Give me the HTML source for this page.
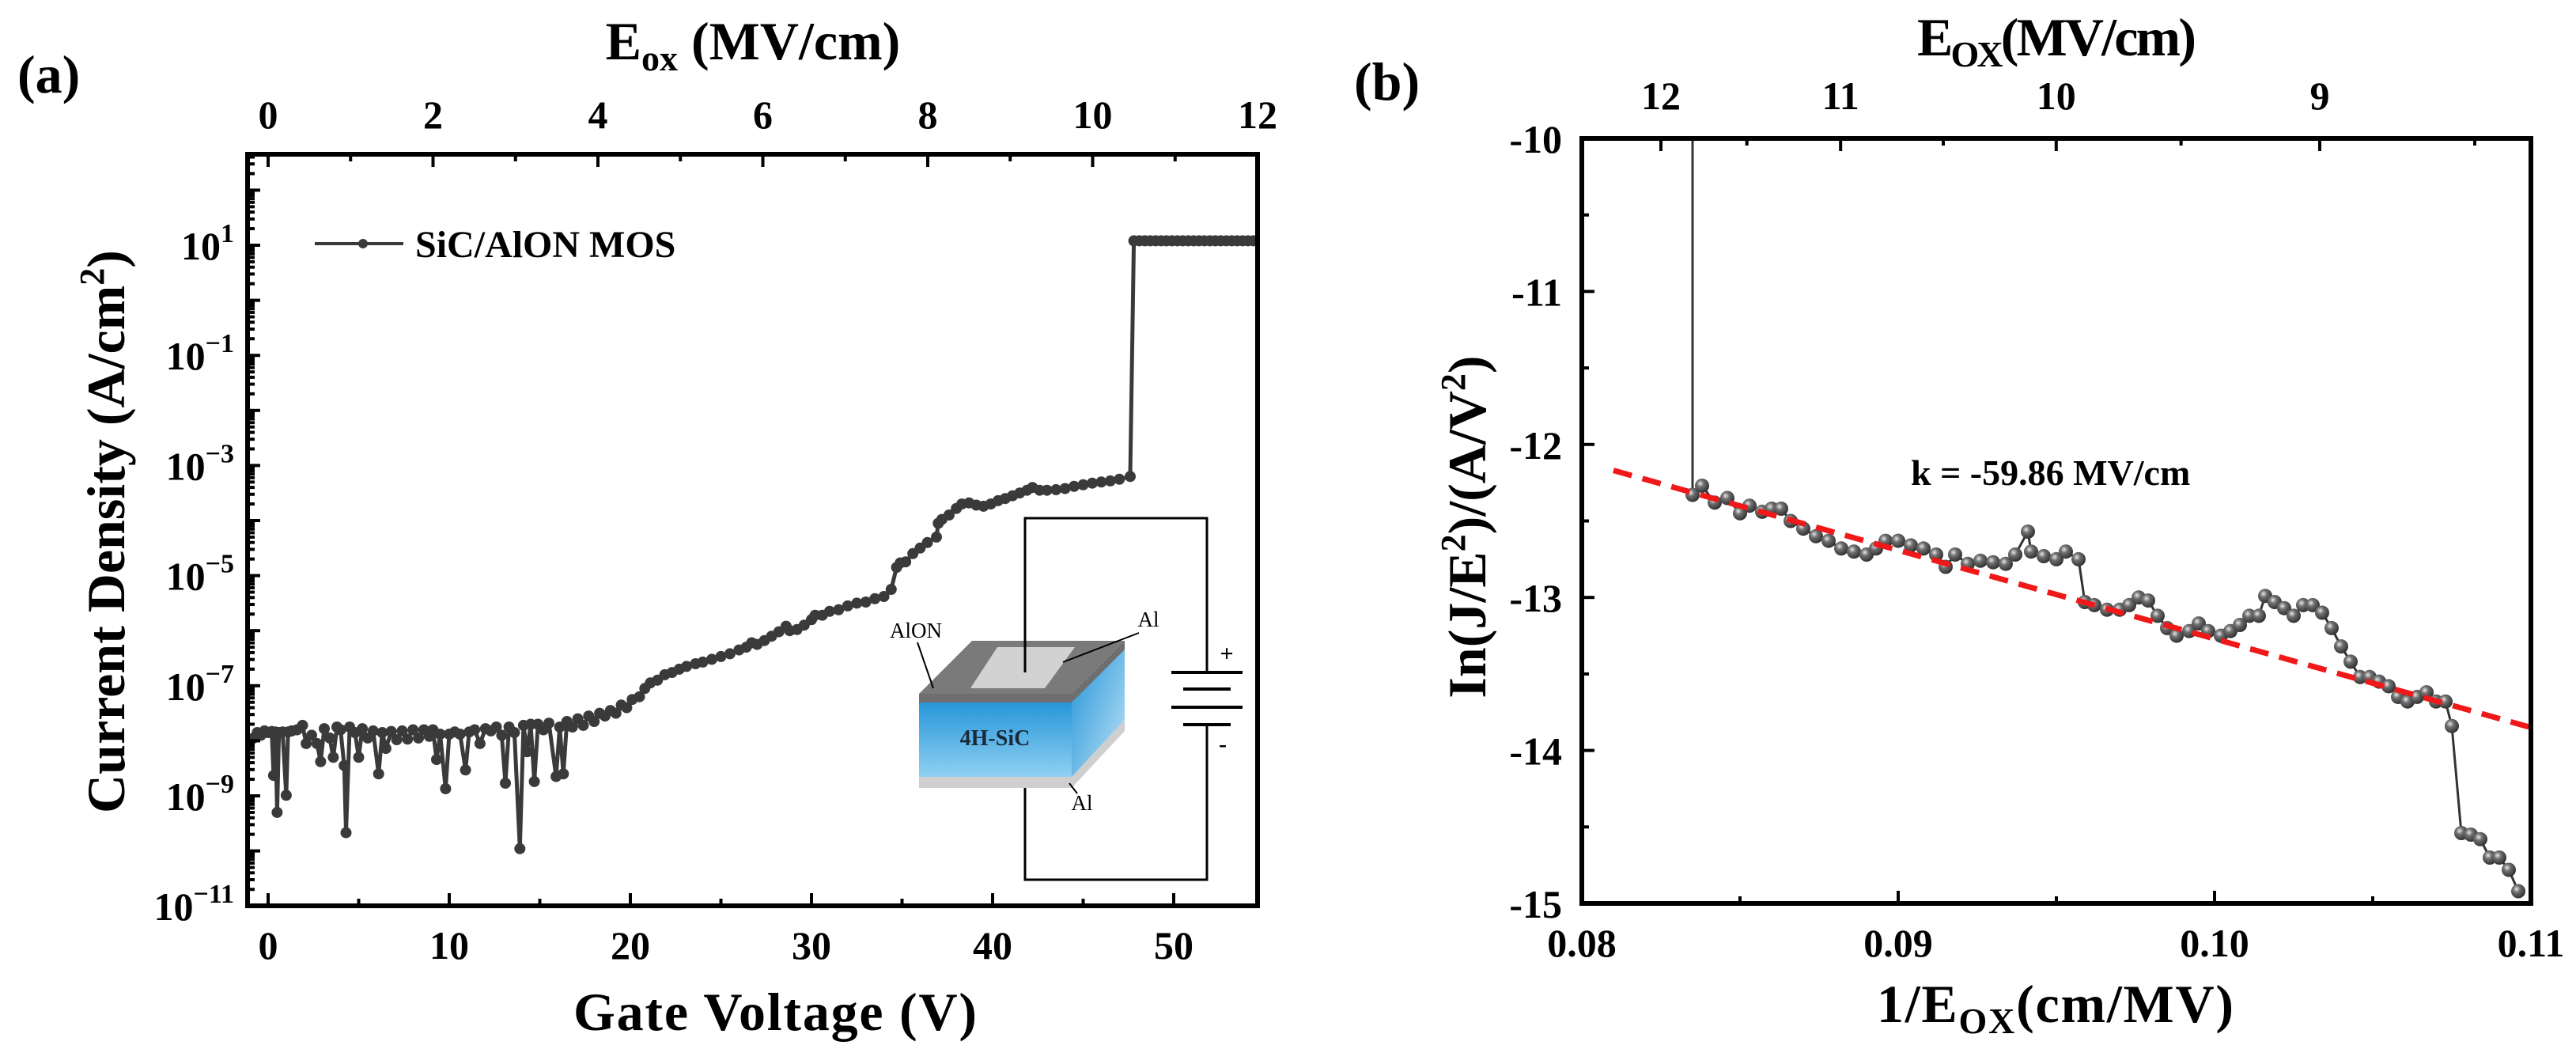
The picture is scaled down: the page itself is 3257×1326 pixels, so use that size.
<!DOCTYPE html>
<html><head><meta charset="utf-8"><title>SiC/AlON MOS J-V and FN plot</title>
<style>
html,body{margin:0;padding:0;background:#fff;}
svg{display:block;font-family:"Liberation Serif",serif;}
.tk{stroke:#000;stroke-width:4;}
.lbl{font-weight:bold;font-size:50px;fill:#000;}
.ttl{font-weight:bold;font-size:68px;fill:#000;}
</style></head>
<body>
<svg id="fig" width="3257" height="1326" viewBox="0 0 3257 1326" xmlns="http://www.w3.org/2000/svg">
<defs>
<clipPath id="clipA"><rect x="313" y="195" width="1277" height="950"/></clipPath>
<clipPath id="clipB"><rect x="2000" y="175" width="1200" height="967"/></clipPath>
<radialGradient id="ball" cx="0.38" cy="0.35" r="0.7">
<stop offset="0" stop-color="#e8e8e8"/><stop offset="0.35" stop-color="#707070"/><stop offset="1" stop-color="#2a2a2a"/>
</radialGradient>
<linearGradient id="sicFront" x1="0" y1="0" x2="0" y2="1">
<stop offset="0" stop-color="#1b8fd6"/><stop offset="1" stop-color="#8fd0f2"/>
</linearGradient>
<linearGradient id="sicSide" x1="0" y1="0" x2="1" y2="1">
<stop offset="0" stop-color="#1b8fd6"/><stop offset="1" stop-color="#bfe4f7"/>
</linearGradient>
</defs>

<!-- Panel (a) static text -->
<text x="22" y="117" class="ttl" font-size="82">(a)</text>
<text x="952" y="75" class="ttl" text-anchor="middle">E<tspan font-size="46" dy="14">ox</tspan><tspan dy="-14"> (MV/cm)</tspan></text>
<text x="980" y="1302" class="ttl" text-anchor="middle" textLength="510">Gate Voltage (V)</text>
<text transform="translate(157,672) rotate(-90)" class="ttl" text-anchor="middle">Current Density (A/cm<tspan font-size="44" dy="-26">2</tspan><tspan dy="26">)</tspan></text>

<!-- Legend -->
<g>
<line x1="398" y1="308" x2="510" y2="308" stroke="#3a3a3a" stroke-width="4"/>
<circle cx="459" cy="308" r="6" fill="#3a3a3a"/>
<text x="525" y="325" font-weight="bold" font-size="48">SiC/AlON MOS</text>
</g>

<!-- Inset: MOS structure and circuit -->
<g>
<polyline points="1296,850 1296,655 1526,655 1526,850" fill="none" stroke="#000" stroke-width="3"/>
<polyline points="1526,916 1526,1112 1296,1112 1296,982" fill="none" stroke="#000" stroke-width="3"/>
<g>
<line x1="1481" y1="850" x2="1571" y2="850" stroke="#000" stroke-width="4"/>
<line x1="1496" y1="871" x2="1556" y2="871" stroke="#000" stroke-width="4"/>
<line x1="1481" y1="894" x2="1571" y2="894" stroke="#000" stroke-width="4"/>
<line x1="1496" y1="916" x2="1556" y2="916" stroke="#000" stroke-width="4"/>
<text x="1551" y="836" font-size="30" font-weight="bold" text-anchor="middle">+</text>
<text x="1546" y="950" font-size="30" font-weight="bold" text-anchor="middle">-</text>
</g>
<polygon points="1162,982 1355,982 1422,910 1422,924 1355,996 1162,996" fill="#cfcfcf"/>
<polygon points="1162,877 1355,877 1355,982 1162,982" fill="url(#sicFront)"/>
<polygon points="1355,877 1422,810 1422,910 1355,982" fill="url(#sicSide)"/>
<polygon points="1162,877 1229,810 1422,810 1355,877" fill="#7a7a7a"/>
<polygon points="1162,877 1355,877 1355,888 1162,888" fill="#6e6e6e"/>
<polygon points="1355,877 1422,810 1422,821 1355,888" fill="#6e6e6e"/>
<polygon points="1227,870 1261,818 1359,818 1321,870" fill="#d2d2d2"/>
<line x1="1296" y1="655" x2="1296" y2="850" stroke="#000" stroke-width="3"/>
<text x="1158" y="806" font-size="27" text-anchor="middle">AlON</text>
<line x1="1160" y1="812" x2="1180" y2="870" stroke="#000" stroke-width="2"/>
<text x="1452" y="792" font-size="27" text-anchor="middle">Al</text>
<line x1="1344" y1="837" x2="1440" y2="800" stroke="#000" stroke-width="2"/>
<text x="1258" y="942" font-size="28" font-weight="bold" text-anchor="middle" fill="#1a2a3a">4H-SiC</text>
<text x="1368" y="1024" font-size="27" text-anchor="middle">Al</text>
<line x1="1352" y1="990" x2="1362" y2="1003" stroke="#000" stroke-width="2"/>
</g>

<!-- Panel (b) static text -->
<text x="1712" y="126" class="ttl" font-size="78">(b)</text>
<text x="2424" y="70" class="ttl" textLength="353">E<tspan font-size="46" dy="14">OX</tspan><tspan dy="-14">(MV/cm)</tspan></text>
<text x="2373" y="1292" class="ttl" textLength="451">1/E<tspan font-size="46" dy="14">OX</tspan><tspan dy="-14">(cm/MV)</tspan></text>
<text transform="translate(1878,666) rotate(-90)" class="ttl" text-anchor="middle">In(J/E<tspan font-size="44" dy="-26">2</tspan><tspan dy="26">)/(A/V</tspan><tspan font-size="44" dy="-26">2</tspan><tspan dy="26">)</tspan></text>
<text x="2416" y="613" font-weight="bold" font-size="46">k = -59.86 MV/cm</text>

<g id="layerA"></g>
<g id="layerB"></g>
</svg>

<script>
// ---------- Panel (a) data ----------
const voltA = [-0.8,-0.6,-0.4,-0.2,0,0.2,0.3,0.4,0.5,0.6,0.8,1.0,1.1,1.3,1.6,1.9,2.1,2.4,2.7,2.9,3.1,3.4,3.6,3.8,4.0,4.2,4.3,4.5,4.8,5.0,5.2,5.5,5.8,6.1,6.3,6.5,6.8,7.1,7.4,7.7,8.0,8.3,8.6,8.9,9.1,9.3,9.5,9.8,10.0,10.3,10.6,10.9,11.1,11.4,11.7,12.0,12.3,12.6,12.9,13.1,13.3,13.6,13.9,14.1,14.3,14.5,14.7,14.9,15.2,15.5,15.9,16.1,16.3,16.5,16.8,17.1,17.4,17.7,18.0,18.3,18.6,18.9,19.2,19.5,19.8,20.1,20.5,20.8,21.1,21.5,21.9,22.3,22.7,23.1,23.6,24.0,24.5,25.0,25.5,26.0,26.4,26.7,27.0,27.4,27.8,28.2,28.6,28.8,29.2,29.6,30.0,30.2,30.6,31.0,31.5,32.0,32.5,33.0,33.5,34.0,34.4,34.7,34.9,35.2,35.6,36.0,36.4,36.9,37.0,37.2,37.6,38.0,38.3,38.7,39.1,39.5,39.9,40.3,40.7,41.1,41.5,41.9,42.2,42.6,43.0,43.5,44.0,44.5,45.0,45.5,46.0,46.5,47.0,47.6,47.8,48.1,48.4,48.7,49.0,49.3,49.6,49.9,50.2,50.5,50.8,51.1,51.4,51.7,52.0,52.3,52.6,52.9,53.2,53.5,53.8,54.1,54.4,54.7];
const logJA = [-7.95,-7.85,-7.9,-7.82,-7.85,-7.83,-8.63,-7.84,-9.3,-7.85,-7.84,-8.99,-7.84,-7.82,-7.8,-7.72,-8.05,-7.9,-8.05,-8.38,-7.78,-7.95,-8.3,-7.75,-7.8,-8.45,-9.67,-7.75,-7.85,-8.3,-7.78,-7.95,-7.82,-8.6,-7.85,-8.14,-7.83,-7.98,-7.82,-7.97,-7.8,-7.95,-7.8,-7.92,-7.8,-8.34,-7.88,-8.87,-7.88,-7.84,-7.88,-8.53,-7.84,-7.8,-8.05,-7.78,-7.82,-7.75,-7.9,-8.77,-7.75,-7.85,-9.96,-7.72,-8.2,-7.7,-8.74,-7.7,-7.8,-7.68,-8.65,-7.75,-8.6,-7.65,-7.75,-7.6,-7.72,-7.55,-7.65,-7.5,-7.55,-7.45,-7.5,-7.35,-7.4,-7.25,-7.2,-7.05,-6.95,-6.9,-6.8,-6.76,-6.7,-6.65,-6.6,-6.57,-6.52,-6.47,-6.42,-6.35,-6.3,-6.22,-6.25,-6.18,-6.1,-6.02,-5.92,-6.0,-5.98,-5.9,-5.8,-5.72,-5.72,-5.65,-5.62,-5.55,-5.5,-5.48,-5.42,-5.38,-5.25,-4.85,-4.77,-4.75,-4.6,-4.5,-4.4,-4.3,-4.05,-3.98,-3.9,-3.78,-3.7,-3.68,-3.72,-3.74,-3.7,-3.64,-3.6,-3.55,-3.5,-3.45,-3.4,-3.45,-3.45,-3.44,-3.42,-3.38,-3.35,-3.32,-3.3,-3.28,-3.25,-3.2,1.08,1.08,1.08,1.08,1.08,1.08,1.08,1.08,1.08,1.08,1.08,1.08,1.08,1.08,1.08,1.08,1.08,1.08,1.08,1.08,1.08,1.08,1.08,1.08];
const xTicksA = [0,10,20,30,40,50];
const xTickLabelsA = ["0","10","20","30","40","50"];
const eoxTicksA = [0,2,4,6,8,10,12];
const eoxTickLabelsA = ["0","2","4","6","8","10","12"];
const yExpTicksA = [-11,-9,-7,-5,-3,-1,1];
const yExpLabelsA = ["\u221211","\u22129","\u22127","\u22125","\u22123","\u22121","1"];

// ---------- Panel (b) data ----------
const invE = [0.0835,0.0838,0.0842,0.0846,0.0850,0.0853,0.0857,0.0860,0.0863,0.0866,0.0870,0.0874,0.0878,0.0882,0.0886,0.0890,0.0893,0.0896,0.0900,0.0904,0.0908,0.0912,0.0915,0.0918,0.0922,0.0926,0.0930,0.0934,0.0937,0.0941,0.0942,0.0946,0.0950,0.0953,0.0957,0.0959,0.0962,0.0966,0.0970,0.0973,0.0976,0.0979,0.0982,0.0985,0.0988,0.0992,0.0995,0.0998,0.1002,0.1005,0.1008,0.1011,0.1014,0.1016,0.1019,0.1022,0.1025,0.1028,0.1031,0.1034,0.1037,0.1040,0.1043,0.1046,0.1049,0.1052,0.1055,0.1058,0.1061,0.1064,0.1067,0.1070,0.1073,0.1075,0.1078,0.1081,0.1084,0.1087,0.1090,0.1093,0.1096];
const lnJE2 = [-12.33,-12.27,-12.38,-12.35,-12.45,-12.40,-12.44,-12.42,-12.42,-12.50,-12.55,-12.60,-12.63,-12.68,-12.70,-12.72,-12.68,-12.63,-12.63,-12.66,-12.68,-12.72,-12.80,-12.72,-12.78,-12.76,-12.77,-12.78,-12.72,-12.57,-12.70,-12.73,-12.75,-12.70,-12.75,-13.03,-13.05,-13.08,-13.08,-13.05,-13.00,-13.02,-13.12,-13.20,-13.25,-13.22,-13.17,-13.22,-13.25,-13.22,-13.18,-13.12,-13.12,-12.99,-13.03,-13.07,-13.12,-13.05,-13.05,-13.10,-13.20,-13.32,-13.42,-13.52,-13.52,-13.55,-13.58,-13.65,-13.68,-13.65,-13.62,-13.68,-13.68,-13.84,-14.54,-14.55,-14.58,-14.70,-14.70,-14.78,-14.92];
const breakdownX = [0.0835];
const breakdownY = [-10];
const fitX = [0.0810,0.1100];
const fitY = [-12.17,-13.85];
const xTicksB = [0.08,0.09,0.10,0.11];
const xTickLabelsB = ["0.08","0.09","0.10","0.11"];
const yTicksB = [-10,-11,-12,-13,-14,-15];
const yTickLabelsB = ["-10","-11","-12","-13","-14","-15"];
const eoxTicksB = [12,11,10,9];
const eoxTickLabelsB = ["12","11","10","9"];

const NS = "http://www.w3.org/2000/svg";
function mk(tag, attrs, parent){
  const e = document.createElementNS(NS, tag);
  for (const k in attrs) e.setAttribute(k, attrs[k]);
  parent.appendChild(e);
  return e;
}

// ---------- Panel (a) axes ----------
const A = {l:313, r:1590, t:195, b:1145};
const xa = v => 339 + v*22.9;
const ya = lg => 310 + (1 - lg)*69.6;
const xEa = e => 339 + e*104.25;
const LA = document.getElementById('layerA');

const gA = mk('g', {'clip-path':'url(#clipA)'}, LA);


const ptsA = voltA.map((v,i)=> xa(v).toFixed(1)+','+ya(logJA[i]).toFixed(1)).join(' ');
const plA = mk('polyline', {points:ptsA, fill:'none', stroke:'#3a3a3a', 'stroke-width':5, 'stroke-linejoin':'round'}, gA);


voltA.forEach((v,i)=>{
  const c = mk('circle', {cx:xa(v).toFixed(1), cy:ya(logJA[i]).toFixed(1), r:7, fill:'#3a3a3a'}, gA);
  
  
});

const frA = mk('rect', {x:A.l, y:A.t, width:A.r-A.l, height:A.b-A.t, fill:'none', stroke:'#000', 'stroke-width':6}, LA);



for (let v=0; v<=54; v+=5){
  const len = (v%10===0)?16:9;
  const t = mk('line', {x1:xa(v), x2:xa(v), y1:A.b, y2:A.b-len, class:'tk'}, LA);
  
  
}
xTicksA.forEach((v,i)=>{
  const t = mk('text', {x:xa(v), y:1212, class:'lbl', 'text-anchor':'middle'}, LA);
  t.textContent = xTickLabelsA[i];
  
  
});
for (let e=0; e<=12; e+=1){
  const len = (e%2===0)?16:9;
  const t = mk('line', {x1:xEa(e), x2:xEa(e), y1:A.t, y2:A.t+len, class:'tk'}, LA);
  
  
}
eoxTicksA.forEach((e,i)=>{
  const t = mk('text', {x:xEa(e), y:162, class:'lbl', 'text-anchor':'middle'}, LA);
  t.textContent = eoxTickLabelsA[i];
  
  
});
for (let d=-11; d<=2; d++){
  const y0 = ya(d);
  if (y0>=A.t && y0<=A.b){
    const t = mk('line', {x1:A.l, x2:A.l+16, y1:y0, y2:y0, class:'tk'}, LA);
    
    
  }
  for (let m=2; m<=9; m++){
    const y1 = ya(d + Math.log10(m));
    if (y1>=A.t+2 && y1<=A.b-2){
      const t = mk('line', {x1:A.l, x2:A.l+9, y1:y1, y2:y1, class:'tk', 'stroke-width':3.5}, LA);
      
      
    }
  }
}
yExpTicksA.forEach((d,i)=>{
  const t = mk('text', {x:296, y:ya(d)+18, class:'lbl', 'text-anchor':'end'}, LA);
  const b = mk('tspan', {}, t); b.textContent = '10';
  const s = mk('tspan', {'font-size':34, dy:-22}, t); s.textContent = yExpLabelsA[i];
  
  
});

// ---------- Panel (b) axes ----------
const B = {l:2000, r:3200, t:175, b:1142};
const xb = x => 2000 + (x-0.08)*40000;
const yb = y => 175 + (-10 - y)*193.4;
const xTopB = e => -399 + 29988/e;
const LB = document.getElementById('layerB');

const gB = mk('g', {'clip-path':'url(#clipB)'}, LB);


const bl = mk('line', {x1:xb(breakdownX[0]), y1:yb(breakdownY[0])-10, x2:xb(invE[0]), y2:yb(lnJE2[0]), stroke:'#333', 'stroke-width':3}, gB);


const ptsB = invE.map((x,i)=> xb(x).toFixed(1)+','+yb(lnJE2[i]).toFixed(1)).join(' ');
const plB = mk('polyline', {points:ptsB, fill:'none', stroke:'#333', 'stroke-width':3}, gB);


invE.forEach((x,i)=>{
  const c = mk('circle', {cx:xb(x).toFixed(1), cy:yb(lnJE2[i]).toFixed(1), r:9, fill:'url(#ball)'}, gB);
  
  
});
const fit = mk('line', {x1:xb(fitX[0]), y1:yb(fitY[0]), x2:xb(fitX[1]), y2:yb(fitY[1]), stroke:'#f01818', 'stroke-width':7, 'stroke-dasharray':'24 14'}, LB);



const frB = mk('rect', {x:B.l, y:B.t, width:B.r-B.l, height:B.b-B.t, fill:'none', stroke:'#000', 'stroke-width':6}, LB);



for (let k=0; k<=6; k++){
  const x = 0.08 + k*0.005;
  const len = (k%2===0)?16:9;
  const t = mk('line', {x1:xb(x), x2:xb(x), y1:B.b, y2:B.b-len, class:'tk'}, LB);
  
  
}
xTicksB.forEach((x,i)=>{
  const t = mk('text', {x:xb(x), y:1209, class:'lbl', 'text-anchor':'middle'}, LB);
  t.textContent = xTickLabelsB[i];
  
  
});
for (let k=0; k<=10; k++){
  const y = -10 - k*0.5;
  const len = (k%2===0)?16:9;
  const t = mk('line', {x1:B.l, x2:B.l+len, y1:yb(y), y2:yb(y), class:'tk'}, LB);
  
  
}
yTicksB.forEach((y,i)=>{
  const t = mk('text', {x:1975, y:yb(y)+18, class:'lbl', 'text-anchor':'end'}, LB);
  t.textContent = yTickLabelsB[i];
  
  
});
[12,11.5,11,10.5,10,9.5,9,8.5].forEach(e=>{
  const x = xTopB(e);
  if (x<B.l || x>B.r) return;
  const len = (e%1===0)?16:9;
  const t = mk('line', {x1:x, x2:x, y1:B.t, y2:B.t+len, class:'tk'}, LB);
  
  
});
eoxTicksB.forEach((e,i)=>{
  const t = mk('text', {x:xTopB(e), y:138, class:'lbl', 'text-anchor':'middle'}, LB);
  t.textContent = eoxTickLabelsB[i];
  
  
});
</script>
</body></html>
